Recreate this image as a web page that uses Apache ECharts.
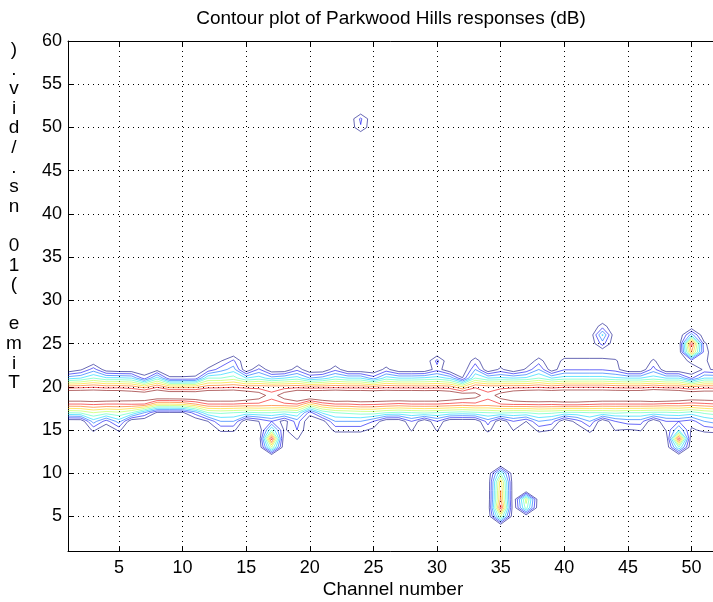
<!DOCTYPE html>
<html><head><meta charset="utf-8">
<script src="https://cdn.jsdelivr.net/npm/echarts@6/dist/echarts.min.js"></script>
<style>html,body{margin:0;padding:0;background:#fff}#chart{width:713px;height:602px}</style>
</head><body><div id="chart"></div><script>
const chartTitle = 'Contour plot of Parkwood Hills responses (dB)';
const xTitle = 'Channel number';
const yTitle = 'Time (10 ns./div.)';

const channels = [1,2,3,4,5,6,7,8,9,10,11,12,13,14,15,16,17,18,19,20,21,22,23,24,25,26,27,28,29,30,31,32,33,34,35,36,37,38,39,40,41,42,43,44,45,46,47,48,49,50,51,52];
const times = [1,2,3,4,5,6,7,8,9,10,11,12,13,14,15,16,17,18,19,20,21,22,23,24,25,26,27,28,29,30,31,32,33,34,35,36,37,38,39,40,41,42,43,44,45,46,47,48,49,50,51,52,53,54,55,56,57,58,59,60];
const xTicks = [5,10,15,20,25,30,35,40,45,50];
const yTicks = [5,10,15,20,25,30,35,40,45,50,55,60];
const levels = [1,2,3,4,5,6,7,8,9,10];
const levelColors = ['#000080','#0000F1','#0063FF','#00D4FF','#47FFB8','#B8FF47','#FFD400','#FF6300','#F10000','#800000'];

// response values per time row (channels 1..52), rows 13..27
const bandStart = 13;
const z13 = [0,0,0,0,0,0,0,0,0,0, 0,0,0,0,0,0,6,0,0,0, 0,0,0,0,0,0,0,0,0,0, 0,0,0,0,0,0,0,0,0,0, 0,0,0,0,0,0,0,0,5,0, 0,0];
const z14 = [0,0,0,0,0,0,0,0,0,0, 0,0,0,0,0,0,9.6,0,1.1,0, 0,0,0,0,0,0,0,0,0,0, 0,0,0,0,0,0,0,0,0,0, 0,0,0,0,0,0,0,0,9.5,0, 0,0];
const z15 = [0,0,1.2,0,1.2,0,0,0,0,0, 0,0,1.2,1.2,0,0,5,0.8,2,0, 0,1.3,1.3,1.3,0.7,0,0,1.1,0,1.1, 0,0,0,1.3,0,1.05,0,1.3,1.02,0, 0,1.4,0,1.05,0.9,1.1,0,1.05,4,0.8, 1.3,1.5];
const z16 = [0,0,3.5,1.5,3.5,0,0,0,0,0, 0,1,3,3,0,1,2,0.5,2.5,0, 0.5,3,3,3,2,0,0,2,0,2, 0,0,0,2.5,0,2,1,3,2.5,0, 1.5,3,0,2,2.5,2.5,0,2,2,1.5, 3,3.5];
const z17 = [5,5.2,6,5.5,5.8,5,3,0.8,0.8,0.8, 2.5,5,5.2,5,4.8,5,5,4.6,5,1.5, 4.2,5,5.2,5.4,5.5,5,4.8,5,5.2,5, 4.8,4.6,4.8,5,5.2,5,5,5.3,5.2,4.8, 4.8,5,5,5.2,5,5,4.8,4.8,5,4.6, 5.2,5.5];
const z18 = [9,9,9.2,9,9,9.1,9,7,7,7.2, 8,9,9,9,8.8,8.8,8.6,8.8,9,7, 8.5,9,9,9.3,9.2,9,8.8,9,9,9, 8.8,8.6,8.8,8.6,9,9.2,9.2,9.3,9.2,9.4, 9.4,9.2,9,9,9,9,9,8.8,8.8,8.6, 8.8,9];
const z19 = [12,12,12,12,11.8,11.5,11.5,12,12,12, 11.8,12,12,12,11.5,10.8,9.3,10.8,12,12, 12,12.2,12,12,12,12,12,12,12,12, 11.5,11,10.5,9.3,10.6,11.5,12,12,12,12, 12,12,12,12,12,12,12.5,12.5,12,11.5, 11.5,11.5];
const z20 = [8.5,8.6,8.8,8.5,8.6,8.4,7.5,8.8,7.5,7.5, 7.6,8.5,8.6,8.8,8.5,8.5,8.5,8.5,8.6,8.4, 8.5,8.6,8.5,8.5,8.3,8.6,8.5,8.5,8.4,8.5, 8.4,7,8.8,8.5,8.5,8.6,8.6,8.8,8.5,8.8, 8.8,8.8,8.8,8.6,8.5,8.5,8.8,8.5,8.5,8, 8.5,8.5];
const z21 = [3.6,4,5,4.2,4.2,4,1.5,4.5,1.2,1.2, 1.3,5,5,5.5,4,4.5,3.5,4,4.5,3, 3.5,4.5,4,4,2.5,4.5,4,4,4.2,4.5, 3.8,1.05,5,4,4.2,4,4.2,5,4,4.5, 4.5,4.5,4.5,4.2,4,4,4.5,4,4,1.8, 4,4];
const z22 = [0,0.8,2.5,0.3,0,0,0,0.5,0,0, 0,1.2,2.5,3.5,0,2.2,0,0,1.7,0, 0,1.7,0,0,0,1.4,0,0,0,1.6, 0,0,3,0,1.3,0,1.2,3,0.3,1.9, 1.9,1.9,1.9,1.5,0,0,2.5,0,0,0, 1.2,0.8];
const z23 = [0,0,0,0,0,0,0,0,0,0, 0,0,0.9,2.2,0,0,0,0,0,0, 0,0,0,0,0,0,0,0,0,2.3, 0,0,1.5,0,0,0,0,1.5,0,1.4, 1.4,1.4,1.4,1.2,0,0,1.2,0,0,1.5, 1.3,0];
const z24 = [0,0,0,0,0,0,0,0,0,0, 0,0,0,0,0,0,0,0,0,0, 0,0,0,0,0,0,0,0,0,0, 0,0,0,0,0,0,0,0,0,0, 0,0,0,0,0,0,0,0,0,8, 1.5,0];
const z25 = [0,0,0,0,0,0,0,0,0,0, 0,0,0,0,0,0,0,0,0,0, 0,0,0,0,0,0,0,0,0,0, 0,0,0,0,0,0,0,0,0,0, 0,0,2.5,0,0,0,0,0,0,9.6, 1.2,0];
const z26 = [0,0,0,0,0,0,0,0,0,0, 0,0,0,0,0,0,0,0,0,0, 0,0,0,0,0,0,0,0,0,0, 0,0,0,0,0,0,0,0,0,0, 0,0,4.2,0,0,0,0,0,0,3.5, 0,0];
const z27 = [0,0,0,0,0,0,0,0,0,0, 0,0,0,0,0,0,0,0,0,0, 0,0,0,0,0,0,0,0,0,0, 0,0,0,0,0,0,0,0,0,0, 0,0,1.5,0,0,0,0,0,0,0, 0,0];
// isolated responses: [channel, time, value]
const spots = [[24,50,1.9],[24,51,2.2],[35,4,0.5],[35,5,6],[35,6,9.4],[35,7,8.2],[35,8,8],[35,9,7.6],[35,10,5],[37,6,5.5],[37,7,6.5]];

const FONT = "'Liberation Sans', Arial, Helvetica, sans-serif";

const Z = times.map(() => channels.map(() => 0));
[z13,z14,z15,z16,z17,z18,z19,z20,z21,z22,z23,z24,z25,z26,z27].forEach((row, k) => {
  const ti = times.indexOf(bandStart + k);
  row.forEach((v, ci) => { Z[ti][ci] = v; });
});
spots.forEach(([c, t, v]) => { Z[times.indexOf(t)][channels.indexOf(c)] = v; });

function contourSegments(Z, xs, ys, level) {
  const segs = [];
  const ip = (a, b, va, vb) => a + (level - va) / (vb - va) * (b - a);
  for (let j = 0; j < ys.length - 1; j++) {
    for (let i = 0; i < xs.length - 1; i++) {
      const v0 = Z[j][i], v1 = Z[j][i+1], v2 = Z[j+1][i+1], v3 = Z[j+1][i];
      let idx = 0;
      if (v0 > level) idx |= 1;
      if (v1 > level) idx |= 2;
      if (v2 > level) idx |= 4;
      if (v3 > level) idx |= 8;
      if (idx === 0 || idx === 15) continue;
      const x0 = xs[i], x1 = xs[i+1], y0 = ys[j], y1 = ys[j+1];
      const B = () => [ip(x0, x1, v0, v1), y0];
      const R = () => [x1, ip(y0, y1, v1, v2)];
      const T = () => [ip(x0, x1, v3, v2), y1];
      const L = () => [x0, ip(y0, y1, v0, v3)];
      const c = (v0 + v1 + v2 + v3) / 4 > level;
      switch (idx) {
        case 1: case 14: segs.push([L(), B()]); break;
        case 2: case 13: segs.push([B(), R()]); break;
        case 3: case 12: segs.push([L(), R()]); break;
        case 4: case 11: segs.push([R(), T()]); break;
        case 6: case 9: segs.push([B(), T()]); break;
        case 7: case 8: segs.push([L(), T()]); break;
        case 5:
          if (c) { segs.push([L(), T()]); segs.push([B(), R()]); }
          else { segs.push([L(), B()]); segs.push([R(), T()]); }
          break;
        case 10:
          if (c) { segs.push([L(), B()]); segs.push([R(), T()]); }
          else { segs.push([B(), R()]); segs.push([L(), T()]); }
          break;
      }
    }
  }
  return segs;
}

function chain(segs) {
  const key = p => p[0].toFixed(6) + ',' + p[1].toFixed(6);
  const adj = new Map();
  segs.forEach((s, k) => { for (const e of [0, 1]) { const kk = key(s[e]); if (!adj.has(kk)) adj.set(kk, []); adj.get(kk).push(k); } });
  const used = new Array(segs.length).fill(false);
  const out = [];
  const extend = pts => {
    for (;;) {
      const end = pts[pts.length - 1];
      const ke = key(end);
      const m = (adj.get(ke) || []).find(n => !used[n]);
      if (m === undefined) break;
      used[m] = true;
      const s = segs[m];
      pts.push(key(s[0]) === ke ? s[1] : s[0]);
    }
  };
  for (let k = 0; k < segs.length; k++) {
    if (used[k]) continue;
    used[k] = true;
    const pts = [segs[k][0], segs[k][1]];
    extend(pts); pts.reverse(); extend(pts);
    out.push(pts);
  }
  return out;
}

const series = levels.map((lv, k) => ({
  type: 'lines', coordinateSystem: 'cartesian2d', xAxisIndex: 0, yAxisIndex: 0,
  polyline: true, silent: true, animation: false, z: 5,
  lineStyle: { color: levelColors[k], width: 0.7, opacity: 0.85 },
  data: chain(contourSegments(Z, channels, times, lv)).map(p => ({ coords: p }))
}));

const gridDots = { color: '#000', width: 1, type: [1, 4] };
const chart = echarts.init(document.getElementById('chart'), null, { renderer: 'canvas' });
chart.setOption({
  animation: false,
  backgroundColor: '#fff',
  grid: { left: 68, top: 41, width: 649, height: 510, containLabel: false, outerBoundsMode: 'none' },
  xAxis: [{
    type: 'value', min: 1, max: 52, position: 'bottom',
    axisLine: { show: true, onZero: false, lineStyle: { color: '#000', width: 1 } },
    axisTick: { show: true, inside: true, length: 5, customValues: xTicks, lineStyle: { color: '#000' } },
    axisLabel: { show: true, customValues: xTicks, color: '#000', fontSize: 18, fontFamily: FONT, margin: 8 },
    splitLine: { show: true, lineStyle: gridDots }
  }, {
    type: 'value', min: 1, max: 52, position: 'top',
    axisLine: { show: true, onZero: false, lineStyle: { color: '#000', width: 1 } },
    axisTick: { show: true, inside: true, length: 5, customValues: xTicks, lineStyle: { color: '#000' } },
    axisLabel: { show: false }, splitLine: { show: false }
  }],
  yAxis: [{
    type: 'value', min: 1, max: 60, position: 'left',
    axisLine: { show: true, onZero: false, lineStyle: { color: '#000', width: 1 } },
    axisTick: { show: true, inside: true, length: 5, customValues: yTicks, lineStyle: { color: '#000' } },
    axisLabel: { show: true, customValues: yTicks, color: '#000', fontSize: 18, fontFamily: FONT, margin: 6 },
    splitLine: { show: true, lineStyle: gridDots }
  }],
  graphic: [
    { type: 'text', x: 391, y: 19, style: { text: chartTitle, font: '19px ' + FONT, fill: '#000', textAlign: 'center', textVerticalAlign: 'middle' } },
    { type: 'text', x: 393, y: 590, style: { text: xTitle, font: '19px ' + FONT, fill: '#000', textAlign: 'center', textVerticalAlign: 'middle' } },
    { type: 'text', x: 14, y: 40, style: { text: yTitle.split('').reverse().join('\n'), font: '19px ' + FONT, lineHeight: 19.6, fill: '#000', textAlign: 'center', textVerticalAlign: 'top' } }
  ],
  series: series
});
</script></body></html>
